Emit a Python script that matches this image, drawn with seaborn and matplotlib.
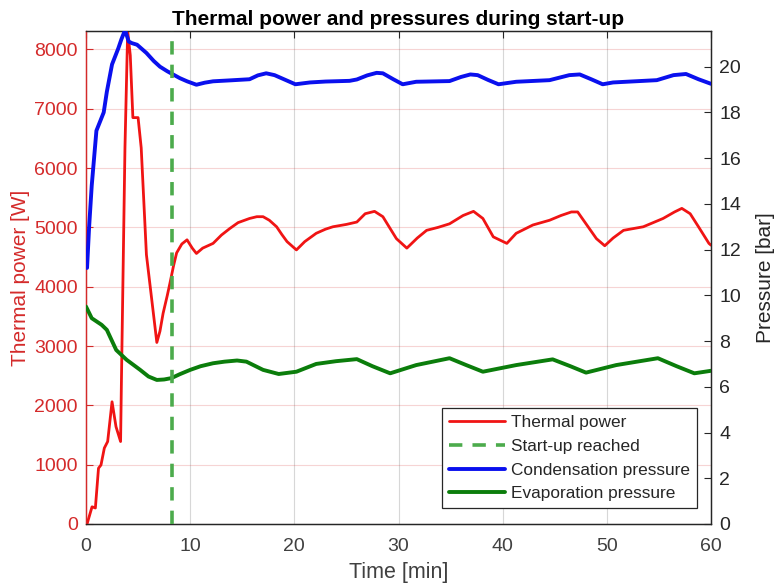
import numpy as np
import pandas as pd
import matplotlib
matplotlib.use("Agg")
import matplotlib.pyplot as plt
import seaborn as sns
from matplotlib.lines import Line2D

# ---- data -------------------------------------------------------------
power_time = [0.1, 0.58, 0.9, 1.2, 1.44, 1.76, 2.08, 2.5, 2.88, 3.32, 3.4, 3.74,
              4.0, 4.25, 4.5, 5.0, 5.3, 5.8, 6.3, 6.8, 7.1, 7.4, 7.8, 8.06, 8.4,
              8.7, 9.2, 9.7, 10.2, 10.6, 11.2, 12.2, 13.0, 13.8, 14.6, 15.7, 16.4,
              17.0, 17.6, 18.3, 18.8, 19.3, 20.2, 21.0, 22.1, 23.0, 23.7, 25.0,
              26.0, 26.8, 27.7, 28.5, 29.2, 29.8, 30.8, 31.8, 32.7, 33.8, 34.9,
              36.2, 37.2, 38.1, 39.1, 40.4, 41.3, 42.9, 44.5, 45.6, 46.6, 47.2,
              48.0, 49.0, 49.8, 50.6, 51.6, 53.5, 55.4, 56.5, 57.2, 58.0, 58.8,
              59.8, 60.0]
power_w = [0, 290, 270, 940, 995, 1280, 1390, 2060, 1640, 1390, 2400, 6340,
           8310, 7900, 6850, 6850, 6340, 4540, 3800, 3060, 3250, 3550, 3850, 4060,
           4350, 4570, 4720, 4790, 4650, 4560, 4650, 4730, 4870, 4980, 5080, 5150,
           5180, 5180, 5120, 5010, 4880, 4760, 4620, 4760, 4900, 4970, 5010, 5050,
           5090, 5230, 5270, 5180, 4980, 4810, 4650, 4820, 4950, 5000, 5060, 5200,
           5270, 5150, 4840, 4730, 4900, 5040, 5120, 5200, 5260, 5260, 5060, 4810,
           4690, 4820, 4950, 5010, 5150, 5260, 5320, 5230, 5010, 4730, 4700]

cond_time = [0.1, 0.3, 0.55, 1.0, 1.7, 2.0, 2.5, 3.1, 3.4, 3.75, 4.1, 4.4, 4.9,
             5.8, 6.5, 7.1, 7.8, 8.4, 9.0, 9.7, 10.6, 11.4, 12.2, 13.8, 15.7,
             16.5, 17.3, 18.1, 19.0, 20.1, 21.5, 23.0, 25.3, 26.0, 27.0, 27.9,
             28.5, 29.5, 30.4, 31.7, 34.9, 36.0, 36.9, 37.6, 38.6, 39.6, 41.3,
             44.5, 46.4, 47.4, 48.5, 49.6, 50.6, 54.8, 56.4, 57.6, 58.8, 60.0]
cond_bar = [11.2, 13.0, 14.8, 17.2, 18.0, 18.9, 20.1, 20.8, 21.2, 21.6, 21.1,
            21.03, 20.96, 20.6, 20.25, 20.0, 19.8, 19.65, 19.5, 19.36, 19.21,
            19.3, 19.36, 19.4, 19.45, 19.62, 19.71, 19.63, 19.45, 19.23, 19.31,
            19.35, 19.38, 19.44, 19.62, 19.73, 19.71, 19.45, 19.23, 19.34, 19.37,
            19.55, 19.66, 19.63, 19.42, 19.23, 19.34, 19.41, 19.63, 19.66, 19.45,
            19.23, 19.31, 19.41, 19.63, 19.68, 19.45, 19.25]

evap_time = [0.0, 0.55, 1.5, 2.0, 2.9, 3.9, 5.2, 6.0, 6.8, 7.5, 8.2, 9.0, 10.0,
             11.0, 12.2, 13.3, 14.5, 15.4, 17.0, 18.5, 20.2, 22.1, 24.0, 26.0,
             27.5, 29.2, 31.7, 34.9, 36.5, 38.1, 41.3, 44.8, 46.5, 48.0, 50.9,
             54.9, 56.7, 58.4, 60.0]
evap_bar = [9.51, 9.0, 8.71, 8.49, 7.61, 7.18, 6.74, 6.45, 6.3, 6.32, 6.38, 6.55,
            6.74, 6.9, 7.03, 7.1, 7.15, 7.1, 6.74, 6.56, 6.66, 7.0, 7.12, 7.21,
            6.9, 6.59, 6.95, 7.25, 6.95, 6.66, 6.95, 7.2, 6.9, 6.62, 6.95, 7.25,
            6.9, 6.59, 6.70]

startup_time = 8.3
x_ticks = [0, 10, 20, 30, 40, 50, 60]
power_ticks = [0, 1000, 2000, 3000, 4000, 5000, 6000, 7000, 8000]
pressure_ticks = [0, 2, 4, 6, 8, 10, 12, 14, 16, 18, 20]

# ---- style ------------------------------------------------------------
sns.set_theme(style="white")
plt.rcParams["font.family"] = ["Liberation Sans", "DejaVu Sans"]

RED = "#f01414"
AX_RED = "#d42a2a"
BLUE = "#0a10ee"
GREEN = "#0b7d0b"
DASH_GREEN = "#4cab4c"
DARK = "#262626"
DASH = (0, (3.7, 2.8))

fig = plt.figure(figsize=(7.76, 5.86), dpi=100)
ax = fig.add_axes([86 / 776, 62 / 586, 625 / 776, 493 / 586])
ax2 = ax.twinx()

df_power = pd.DataFrame({"t": power_time, "p": power_w})
df_cond = pd.DataFrame({"t": cond_time, "p": cond_bar})
df_evap = pd.DataFrame({"t": evap_time, "p": evap_bar})

sns.lineplot(data=df_power, x="t", y="p", ax=ax, color=RED, lw=2.0, zorder=4)
sns.lineplot(data=df_cond, x="t", y="p", ax=ax2, color=BLUE, lw=2.8, zorder=3)
sns.lineplot(data=df_evap, x="t", y="p", ax=ax2, color=GREEN, lw=2.8, zorder=3)
ax2.axvline(startup_time, color=DASH_GREEN, lw=2.6, ls=DASH, zorder=5)

# left axis (power)
ax.set_xlim(0, 60)
ax.set_ylim(0, 8310)
ax.set_xticks(x_ticks)
ax.set_yticks(power_ticks)
ax.set_xlabel("Time [min]", fontsize=15.5, color="#404040", labelpad=5)
ax.set_ylabel("Thermal power [W]", fontsize=15, color=AX_RED, labelpad=3)
ax.tick_params(axis="x", direction="in", length=5, width=0.8, colors=DARK,
               labelsize=14, labelcolor="#404040", pad=10, top=True)
ax.tick_params(axis="y", direction="in", length=5, width=0.8, colors=AX_RED,
               labelsize=14, labelcolor=AX_RED, pad=6)
ax.grid(True, axis="y", color=AX_RED, alpha=0.2, lw=0.8)
ax.grid(True, axis="x", color=DARK, alpha=0.18, lw=0.8)

# right axis (pressure)
ax2.set_ylim(0, 21.56)
ax2.set_yticks(pressure_ticks)
ax2.set_xlabel("")
ax2.set_ylabel("Pressure [bar]", fontsize=15, color=DARK, labelpad=11)
ax2.tick_params(axis="y", direction="in", length=5, width=0.8, colors=DARK,
                labelsize=14, labelcolor=DARK, pad=6)
ax2.grid(False)

for spine in ["top", "bottom"]:
    ax.spines[spine].set_color(DARK)
    ax2.spines[spine].set_color(DARK)
ax.spines["left"].set_color(AX_RED)
ax2.spines["left"].set_color(AX_RED)
ax2.spines["right"].set_color(DARK)
for a in (ax, ax2):
    for s in a.spines.values():
        s.set_linewidth(0.9)

ax.set_title("Thermal power and pressures during start-up", fontsize=15,
             fontweight="bold", color="black", pad=4)

handles = [
    Line2D([], [], color=RED, lw=2.0),
    Line2D([], [], color=DASH_GREEN, lw=2.6, ls=DASH),
    Line2D([], [], color=BLUE, lw=2.8),
    Line2D([], [], color=GREEN, lw=2.8),
]
labels = ["Thermal power", "Start-up reached", "Condensation pressure",
          "Evaporation pressure"]
leg = ax2.legend(handles, labels, loc="lower right",
                 bbox_to_anchor=(0.978, 0.032), fontsize=12.4, frameon=True,
                 fancybox=False, edgecolor=DARK, framealpha=1,
                 handlelength=3.3, handletextpad=0.35, labelspacing=0.5,
                 borderpad=0.4, borderaxespad=0)
leg.get_frame().set_linewidth(0.9)
for txt in leg.get_texts():
    txt.set_color(DARK)

fig.savefig("out.png", dpi=100)
